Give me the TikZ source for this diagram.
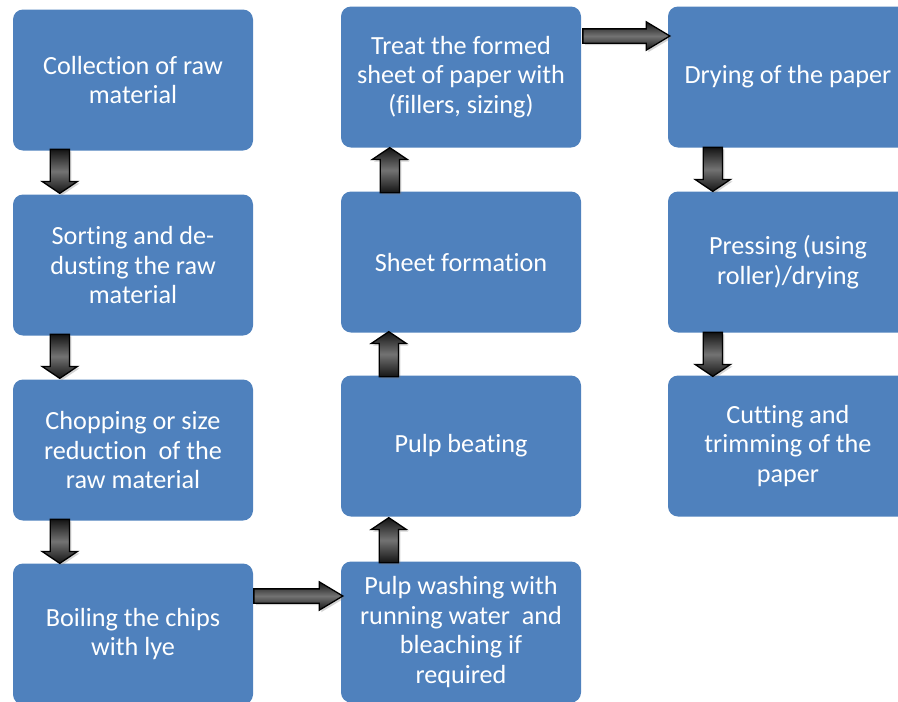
\documentclass[tikz,border=0pt]{standalone}
\usepackage{fontspec}
\setmainfont[Ligatures={NoCommon,NoContextual}]{Carlito}
\usetikzlibrary{shapes.arrows,shadows,calc}
\definecolor{boxblue}{HTML}{4F81BD}
\tikzset{
  stepbox/.style={fill=boxblue, rounded corners=10pt, inner sep=0pt,
    minimum width=240pt, minimum height=141pt, text=white, align=center,
    font=\fontsize{26.2}{29.5}\selectfont},
  blkarrow/.style={single arrow, draw=black, line width=1.3pt, inner xsep=0pt,
    text height=0pt, text depth=0pt, text width=0pt, anchor=tail,
    shading=axis, top color=black!92, bottom color=black!92, middle color=black!55,
    drop shadow={opacity=0.35, shadow xshift=2pt, shadow yshift=-2pt}},
  varrow/.style={blkarrow, inner ysep=9pt, single arrow head extend=8pt,
    single arrow tip angle=112, minimum height=44pt},
  harrow/.style={blkarrow, inner ysep=6.5pt, single arrow head extend=7pt,
    single arrow tip angle=62, minimum height=89pt},
}
\begin{document}
\begin{tikzpicture}[x=1pt, y=-1pt]
\useasboundingbox (0,0) rectangle (898,702);
\clip (0,0) rectangle (898,702);
% column 1
\node[stepbox] (b1) at (133,80) {Collection of raw\\material};
\node[stepbox] (b2) at (133,265) {Sorting and de-\\dusting the raw\\material};
\node[stepbox] (b3) at (133,450) {Chopping or size\\reduction\ \ of the\\raw material};
\node[stepbox] (b4) at (133,634) {Boiling the chips\\with lye};
% column 2
\node[stepbox] (c1) at (461,77) {Treat the formed\\sheet of paper with\\(fillers, sizing)};
\node[stepbox] (c2) at (461,262) {Sheet formation};
\node[stepbox] (c3) at (461,446) {Pulp beating};
\node[stepbox] (c4) at (461,632) {Pulp washing with\\running water\ \ and\\bleaching if\\required};
% column 3
\node[stepbox] (d1) at (788,77) {Drying of the paper};
\node[stepbox] (d2) at (788,262) {Pressing (using\\roller)/drying};
\node[stepbox] (d3) at (788,446) {Cutting and\\trimming of the\\paper};
% arrows column 1 (down)
\node[varrow, rotate=-90] (a1) at ($(b1.south west)+(47,-2)$) {};
\node[varrow, rotate=-90] (a2) at ($(b2.south west)+(47,-2)$) {};
\node[varrow, rotate=-90] (a3) at ($(b3.south west)+(47,-2)$) {};
% bottom horizontal
\node[harrow] (a4) at ($(b4.east)+(0,-38)$) {};
% arrows column 2 (up)
\node[varrow, rotate=90, minimum height=45pt] (a5) at ($(c4.north west)+(48,2)$) {};
\node[varrow, rotate=90, minimum height=45pt] (a6) at ($(c3.north west)+(48,2)$) {};
\node[varrow, rotate=90, minimum height=45pt] (a7) at ($(c2.north west)+(49,2)$) {};
% top horizontal
\node[harrow, minimum height=87pt] (a8) at ($(c1.east)+(1,-41)$) {};
% arrows column 3 (down)
\node[varrow, rotate=-90] (a9) at ($(d1.south west)+(45,-1)$) {};
\node[varrow, rotate=-90] (a10) at ($(d2.south west)+(45,-1)$) {};
\end{tikzpicture}
\end{document}
